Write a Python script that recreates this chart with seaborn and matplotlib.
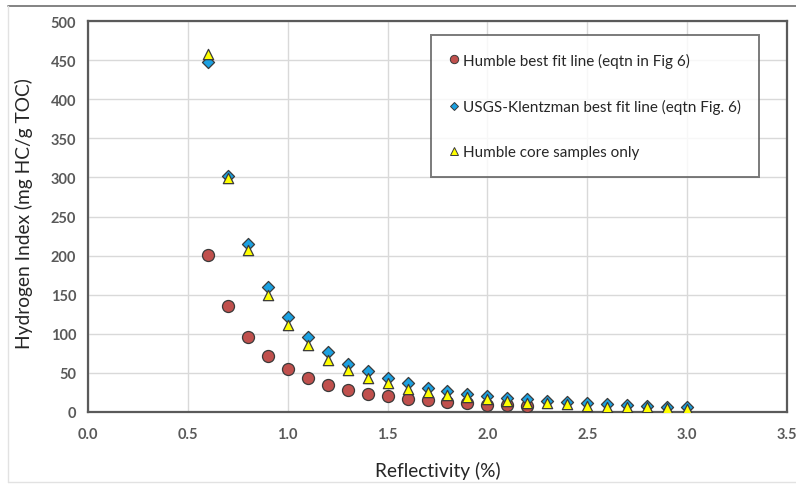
import matplotlib
matplotlib.use("Agg")
import matplotlib.pyplot as plt
from matplotlib.lines import Line2D
import seaborn as sns
import pandas as pd

# Vitrinite reflectivity (%) and hydrogen index (mg HC/g TOC)
humble_ro = [0.6, 0.7, 0.8, 0.9, 1.0, 1.1, 1.2, 1.3, 1.4, 1.5, 1.6, 1.7,
             1.8, 1.9, 2.0, 2.1, 2.2]
humble_hi = [201, 136, 96, 72, 55, 43, 35, 28, 23, 20, 17, 15,
             13, 11, 9, 9, 8]

usgs_ro = [0.6, 0.7, 0.8, 0.9, 1.0, 1.1, 1.2, 1.3, 1.4, 1.5, 1.6, 1.7, 1.8,
           1.9, 2.0, 2.1, 2.2, 2.3, 2.4, 2.5, 2.6, 2.7, 2.8, 2.9, 3.0]
usgs_hi = [448, 302, 215, 160, 122, 96, 77, 62, 52, 43, 37, 31, 27,
           23, 21, 18, 16, 14, 13, 11, 10, 9, 8, 7, 7]

core_ro = [0.6, 0.7, 0.8, 0.9, 1.0, 1.1, 1.2, 1.3, 1.4, 1.5, 1.6, 1.7, 1.8,
           1.9, 2.0, 2.1, 2.2, 2.3, 2.4, 2.5, 2.6, 2.7, 2.8, 2.9, 3.0]
core_hi = [458, 299, 207, 149, 111, 86, 67, 54, 44, 37, 30, 26, 22,
           19, 16, 14, 12, 11, 10, 8, 7, 6, 6, 5, 4]

labels = ["Humble best fit line (eqtn in Fig 6)",
          "USGS-Klentzman best fit line (eqtn Fig. 6)",
          "Humble core samples only"]

x_ticks = [0.0, 0.5, 1.0, 1.5, 2.0, 2.5, 3.0, 3.5]
y_ticks = [0, 50, 100, 150, 200, 250, 300, 350, 400, 450, 500]

sns.set_theme(style="white")
plt.rcParams["font.family"] = ["Lato", "DejaVu Sans"]

fig = plt.figure(figsize=(7.96, 4.85), dpi=100)
ax = fig.add_axes([88 / 796, 1 - 413 / 485, (787 - 88) / 796, (413 - 22) / 485])

edge = "#3a3a3a"
red = "#C0504D"
blue = "#1BA1E2"
yellow = "#FFFF00"

df_h = pd.DataFrame({"ro": humble_ro, "hi": humble_hi})
df_u = pd.DataFrame({"ro": usgs_ro, "hi": usgs_hi})
df_c = pd.DataFrame({"ro": core_ro, "hi": core_hi})

sns.scatterplot(data=df_h, x="ro", y="hi", ax=ax, marker="o", s=75,
                color=red, edgecolor=edge, linewidth=0.9, zorder=3)
sns.scatterplot(data=df_u, x="ro", y="hi", ax=ax, marker="D", s=38,
                color=blue, edgecolor=edge, linewidth=0.9, zorder=4)
sns.scatterplot(data=df_c, x="ro", y="hi", ax=ax, marker="^", s=55,
                color=yellow, edgecolor=edge, linewidth=0.9, zorder=5)

ax.set_xlim(0, 3.5)
ax.set_ylim(0, 500)
ax.set_xticks(x_ticks)
ax.set_xticklabels([f"{v:.1f}" for v in x_ticks])
ax.set_yticks(y_ticks)
ax.set_yticklabels([str(v) for v in y_ticks])

ax.grid(True, color="#d9d9d9", linewidth=1.0, zorder=0)
ax.set_axisbelow(True)
for sp in ax.spines.values():
    sp.set_color("#5a5a5a")
    sp.set_linewidth(1.6)
    sp.set_visible(True)

ax.tick_params(axis="both", direction="inout", length=9, width=1.3,
               color="#5a5a5a", labelsize=10.5, labelcolor="#595959")
ax.tick_params(axis="x", pad=6)
ax.tick_params(axis="y", pad=4)
for lab in ax.get_xticklabels() + ax.get_yticklabels():
    lab.set_fontweight("bold")

ax.set_xlabel("Reflectivity (%)", fontsize=13.8, color="#262626", labelpad=15)
ax.set_ylabel("Hydrogen Index (mg HC/g TOC)", fontsize=13.8, color="#262626")
ax.yaxis.set_label_coords(-55 / 699, 0.51)

handles = [
    Line2D([], [], linestyle="none", marker="o", markersize=6,
           markerfacecolor=red, markeredgecolor=edge, markeredgewidth=0.7),
    Line2D([], [], linestyle="none", marker="D", markersize=4.5,
           markerfacecolor=blue, markeredgecolor=edge, markeredgewidth=0.7),
    Line2D([], [], linestyle="none", marker="^", markersize=6,
           markerfacecolor=yellow, markeredgecolor=edge, markeredgewidth=0.7),
]
leg = ax.legend(handles, labels, loc="upper right",
                bbox_to_anchor=((759 - 88) / 699, (413 - 36) / 391),
                frameon=True, fancybox=False, fontsize=11,
                labelspacing=2.05, handlelength=0.6, handletextpad=0.35,
                borderpad=1.15, borderaxespad=0)
frame = leg.get_frame()
frame.set_edgecolor("#5a5a5a")
frame.set_linewidth(1.4)
for t in leg.get_texts():
    t.set_color("#262626")

# outer chart border
fig.add_artist(Line2D([8 / 796, 1.0], [1 - 7 / 485, 1 - 7 / 485],
                      transform=fig.transFigure, color="#6e6e6e", linewidth=1.2))
fig.add_artist(Line2D([8 / 796, 8 / 796], [1 - 483 / 485, 1 - 7 / 485],
                      transform=fig.transFigure, color="#e2e2e2", linewidth=1.0))
fig.add_artist(Line2D([8 / 796, 1.0], [1 - 483 / 485, 1 - 483 / 485],
                      transform=fig.transFigure, color="#e2e2e2", linewidth=1.0))

fig.savefig("out.png", dpi=100)
